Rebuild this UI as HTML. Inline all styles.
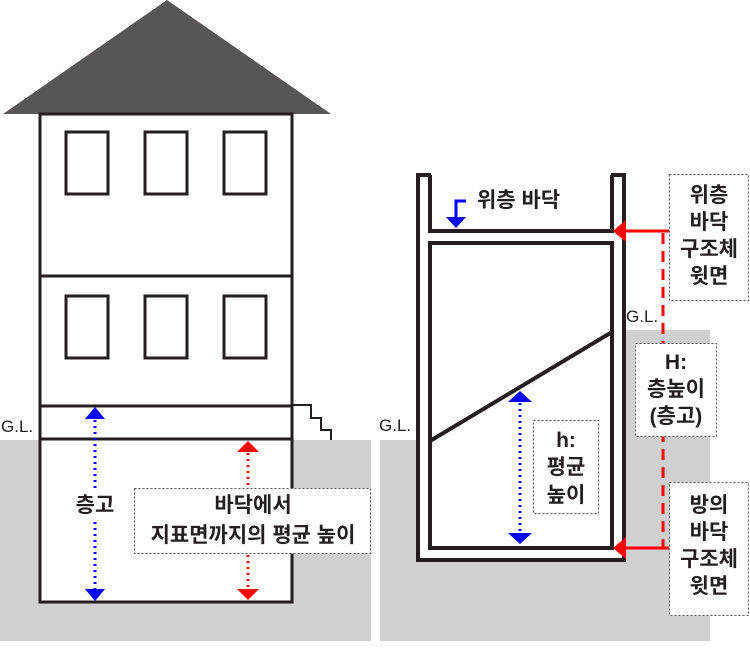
<!DOCTYPE html>
<html><head><meta charset="utf-8"><style>
html,body{margin:0;padding:0;background:#fff;}
svg text{font-family:"Liberation Sans","Noto Sans CJK KR",sans-serif;fill:#231f20;}
.k{font-weight:bold;}
</style></head><body>
<svg width="750" height="644" viewBox="0 0 750 644" xmlns="http://www.w3.org/2000/svg">
<rect x="0" y="440" width="371" height="201" fill="#d1d0d0"/>
<rect x="380" y="440" width="330" height="201" fill="#d1d0d0"/>
<rect x="625" y="330" width="85" height="120" fill="#d1d0d0"/>

<polygon points="167,0 3,114 331,114" fill="#585556"/>
<rect x="40" y="114" width="252" height="488" fill="#fff" stroke="#231f20" stroke-width="3"/>
<line x1="40" y1="276" x2="292" y2="276" stroke="#231f20" stroke-width="3"/>
<line x1="40" y1="406" x2="292" y2="406" stroke="#231f20" stroke-width="3"/>
<line x1="40" y1="439" x2="292" y2="439" stroke="#231f20" stroke-width="3"/>
<g fill="none" stroke="#231f20" stroke-width="3">
<rect x="66" y="132" width="42" height="62"/><rect x="145" y="132" width="42" height="62"/><rect x="224" y="132" width="42" height="62"/>
<rect x="66" y="296" width="42" height="62"/><rect x="145" y="296" width="42" height="62"/><rect x="224" y="296" width="42" height="62"/>
<polyline points="292,405 311,405 311,418 321,418 321,430 331,430 331,440" stroke-width="2"/>
</g>
<text x="1" y="432" font-size="17">G.L.</text>
<line x1="95" y1="420" x2="95" y2="590" stroke="#0000ff" stroke-width="3" stroke-dasharray="2,4"/>
<polygon points="95,407 85,419 105,419" fill="#0000ff"/>
<polygon points="95,601 85,589 105,589" fill="#0000ff"/>
<rect x="70" y="488" width="50" height="32" fill="#fff"/>
<text class="k" x="95" y="512" font-size="21" text-anchor="middle">층고</text>
<line x1="248" y1="453" x2="248" y2="588" stroke="#ff0000" stroke-width="3" stroke-dasharray="2,4"/>
<polygon points="248,441 237,452 259,452" fill="#ff0000"/>
<polygon points="248,600 237,589 259,589" fill="#ff0000"/>
<rect x="134.5" y="488.5" width="236" height="65" fill="#fff" stroke="#555" stroke-width="1" stroke-dasharray="2,2"/>
<text class="k" x="253" y="512" font-size="21" text-anchor="middle">바닥에서</text>
<text class="k" x="253" y="542" font-size="21" text-anchor="middle">지표면까지의 평균 높이</text>

<g stroke="#231f20" stroke-width="4" fill="none">
<path d="M418,175 V560 H624 V175" fill="#fff"/>
<line x1="416" y1="175" x2="431" y2="175"/>
<line x1="611" y1="175" x2="626" y2="175"/>
<path d="M430,175 V231 H612 V175"/>
<rect x="430" y="243" width="182" height="305" fill="#fff"/>
<line x1="430" y1="441" x2="612" y2="332"/>
</g>
<text x="379" y="431" font-size="17">G.L.</text>
<text x="626" y="322" font-size="17">G.L.</text>
<polyline points="466,201 456,201 456,218" fill="none" stroke="#0000ff" stroke-width="3"/>
<polygon points="456,228 446,217 466,217" fill="#0000ff"/>
<text class="k" x="477" y="207" font-size="21">위층 바닥</text>
<line x1="520" y1="403" x2="520" y2="532" stroke="#0000ff" stroke-width="3" stroke-dasharray="2,4"/>
<polygon points="520,391 508,402 532,402" fill="#0000ff"/>
<polygon points="520,544 508,533 532,533" fill="#0000ff"/>
<rect x="533.5" y="420.5" width="65" height="93" fill="#fff" stroke="#555" stroke-width="1" stroke-dasharray="2,2"/>
<text class="k" x="566" y="447" font-size="21" text-anchor="middle">h:</text>
<text class="k" x="566" y="474" font-size="21" text-anchor="middle">평균</text>
<text class="k" x="566" y="502" font-size="21" text-anchor="middle">높이</text>
<line x1="663" y1="233" x2="663" y2="548" stroke="#ff0000" stroke-width="3" stroke-dasharray="11,7"/>
<line x1="624" y1="231" x2="669" y2="231" stroke="#ff0000" stroke-width="3"/>
<polygon points="613,231 626,220 626,242" fill="#ff0000"/>
<line x1="624" y1="548" x2="669" y2="548" stroke="#ff0000" stroke-width="3"/>
<polygon points="613,548 626,537 626,559" fill="#ff0000"/>
<rect x="669.5" y="174.5" width="79" height="126" fill="#fff" stroke="#555" stroke-width="1" stroke-dasharray="2,2"/>
<text class="k" x="709" y="202" font-size="21" text-anchor="middle">위층</text>
<text class="k" x="709" y="229" font-size="21" text-anchor="middle">바닥</text>
<text class="k" x="709" y="256" font-size="21" text-anchor="middle">구조체</text>
<text class="k" x="709" y="283" font-size="21" text-anchor="middle">윗면</text>
<rect x="635.5" y="343.5" width="81" height="93" fill="#fff" stroke="#555" stroke-width="1" stroke-dasharray="2,2"/>
<text class="k" x="676" y="369" font-size="21" text-anchor="middle">H:</text>
<text class="k" x="676" y="396" font-size="21" text-anchor="middle">층높이</text>
<text class="k" x="676" y="423" font-size="21" text-anchor="middle">(층고)</text>
<rect x="669.5" y="482.5" width="79" height="133" fill="#fff" stroke="#555" stroke-width="1" stroke-dasharray="2,2"/>
<text class="k" x="709" y="512" font-size="21" text-anchor="middle">방의</text>
<text class="k" x="709" y="539" font-size="21" text-anchor="middle">바닥</text>
<text class="k" x="709" y="566" font-size="21" text-anchor="middle">구조체</text>
<text class="k" x="709" y="593" font-size="21" text-anchor="middle">윗면</text>
</svg>
</body></html>
